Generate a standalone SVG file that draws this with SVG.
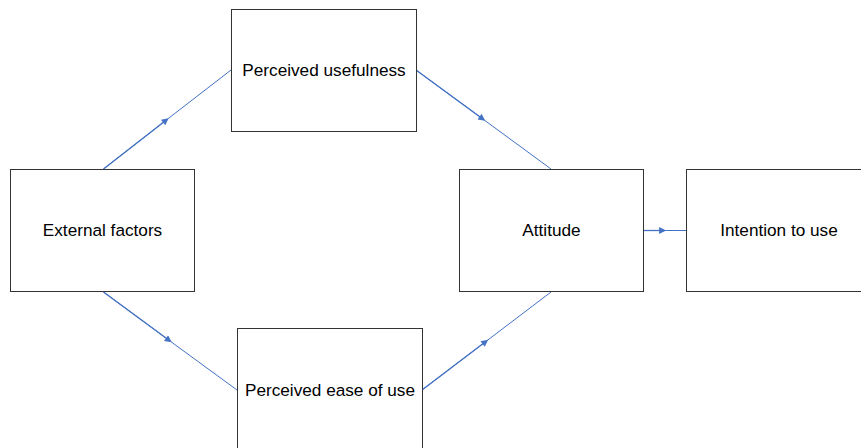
<svg xmlns="http://www.w3.org/2000/svg" width="861" height="448" viewBox="0 0 861 448">
  <style>
    .box { fill: #ffffff; stroke: #333333; stroke-width: 1; }
    .label { font-family: "Liberation Sans", Arial, sans-serif; font-size: 17.2px; fill: #000000; text-anchor: middle; dominant-baseline: central; }
    .link { fill: none; stroke: #4472C4; stroke-width: 1; marker-mid: url(#arrow); }
    .lead { fill: none; stroke: #4472C4; stroke-width: 1.3; }
  </style>
  <defs>
    <marker id="arrow" viewBox="0 0 10 10" refX="7" refY="5" markerWidth="9" markerHeight="7" markerUnits="userSpaceOnUse" orient="auto">
      <path d="M0,0 L10,5 L0,10 Z" fill="#4472C4"/>
    </marker>
  </defs>
  <rect width="861" height="448" fill="#ffffff"/>

  <g id="connectors">
    <!-- heavier first half of each link, up to its arrowhead -->
    <path class="lead" d="M103.5,169 L167,119.5"/>
    <path class="lead" d="M416,70 L483.5,119.5"/>
    <path class="lead" d="M643,230.5 L664,230.5"/>
    <path class="lead" d="M103.5,292 L170,341"/>
    <path class="lead" d="M422,390 L486.5,341"/>
    <polyline class="link" points="103.5,169 167,119.5 231,70"/>
    <polyline class="link" points="416,70 483.5,119.5 551,169"/>
    <polyline class="link" points="643,230.5 664,230.5 686,230.5"/>
    <polyline class="link" points="103.5,292 170,341 237,390"/>
    <polyline class="link" points="422,390 486.5,341 551,292"/>
  </g>

  <g id="external-factors">
    <rect class="box" x="10.5" y="169.5" width="184" height="122"/>
    <text class="label" x="102.5" y="230">External factors</text>
  </g>
  <g id="perceived-usefulness">
    <rect class="box" x="231.5" y="9.5" width="185" height="122"/>
    <text class="label" x="324" y="70">Perceived usefulness</text>
  </g>
  <g id="attitude">
    <rect class="box" x="459.5" y="169.5" width="184" height="122"/>
    <text class="label" x="551.5" y="230">Attitude</text>
  </g>
  <g id="intention-to-use">
    <rect class="box" x="686.5" y="169.5" width="184" height="122"/>
    <text class="label" x="779" y="230">Intention to use</text>
  </g>
  <g id="perceived-ease-of-use">
    <rect class="box" x="237.5" y="328.5" width="185" height="130"/>
    <text class="label" x="330" y="390">Perceived ease of use</text>
  </g>
</svg>
